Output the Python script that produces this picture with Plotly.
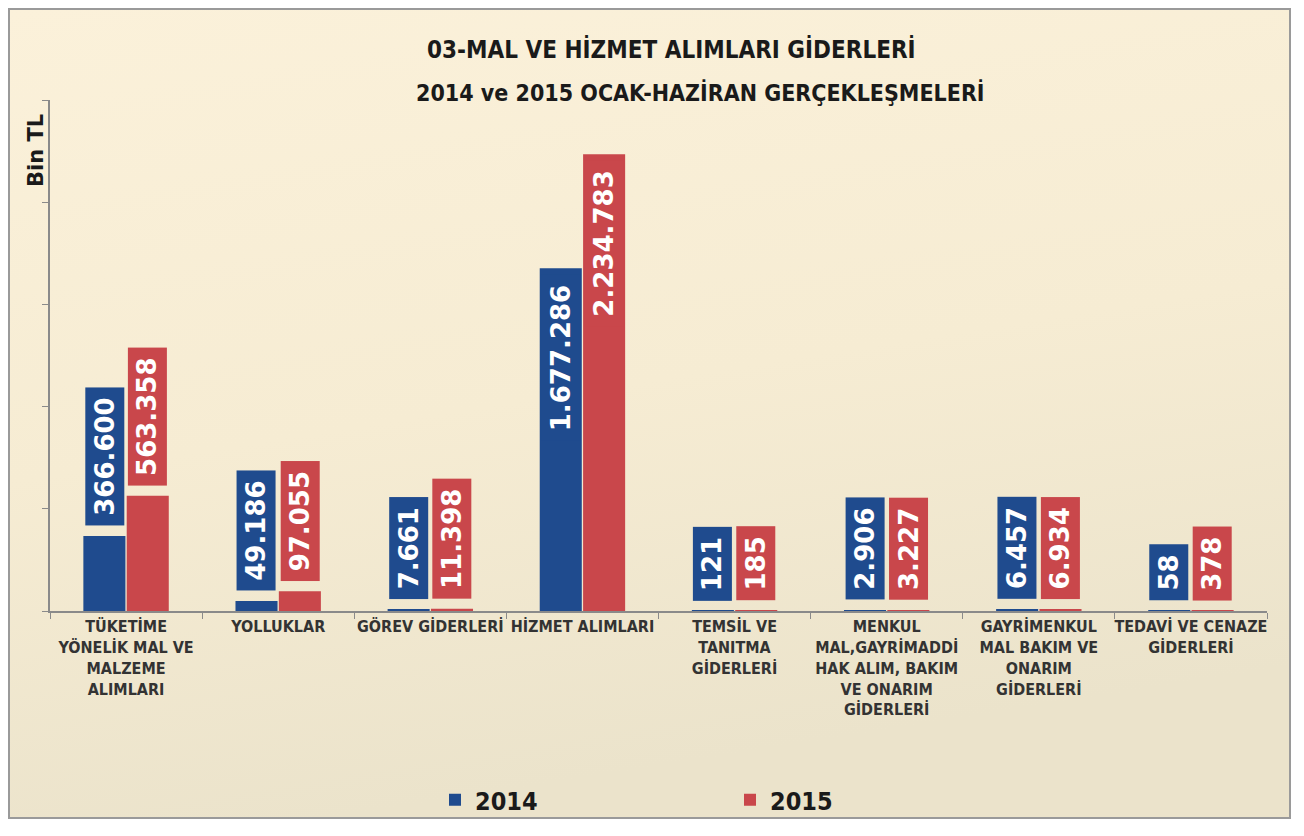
import base64
import plotly.graph_objects as go

categories = [
    "TÜKETİME<br>YÖNELİK MAL VE<br>MALZEME<br>ALIMLARI",
    "YOLLUKLAR",
    "GÖREV GİDERLERİ",
    "HİZMET ALIMLARI",
    "TEMSİL VE<br>TANITMA<br>GİDERLERİ",
    "MENKUL<br>MAL,GAYRİMADDİ<br>HAK ALIM, BAKIM<br>VE ONARIM<br>GİDERLERİ",
    "GAYRİMENKUL<br>MAL BAKIM VE<br>ONARIM<br>GİDERLERİ",
    "TEDAVİ VE CENAZE<br>GİDERLERİ",
]
values_2014 = [366600, 49186, 7661, 1677286, 121, 2906, 6457, 58]
values_2015 = [563358, 97055, 11398, 2234783, 185, 3227, 6934, 378]
series_names = ["2014", "2015"]
y_ticks = [0, 500000, 1000000, 1500000, 2000000, 2500000]

title_line1 = "03-MAL VE HİZMET ALIMLARI GİDERLERİ"
title_line2 = "2014 ve 2015 OCAK-HAZİRAN GERÇEKLEŞMELERİ"
y_title = "Bin TL"

BLUE = "#1f4b8e"
RED = "#c9474b"
BARGAP = 0.43

NARROW = "DejaVu Sans Condensed, Liberation Sans Narrow, Roboto, sans-serif"


def fmt(v):
    return f"{v:,}".replace(",", ".")


fig = go.Figure()
for name, vals, col in [(series_names[0], values_2014, BLUE), (series_names[1], values_2015, RED)]:
    fig.add_trace(go.Bar(x=categories, y=vals, name=name, marker_color=col,
                         marker_line_width=0, hoverinfo="x+y"))

# data labels as boxed, rotated annotations
off = (1 - BARGAP) / 4
for vals, col, sign in [(values_2014, BLUE, -1), (values_2015, RED, 1)]:
    for i, v in enumerate(vals):
        inside = v > 1_000_000
        fig.add_annotation(
            x=i + sign * off, y=v, xref="x", yref="y",
            text="\u2009" + fmt(v) + "\u2009",
            showarrow=False, textangle=-90,
            font=dict(family="DejaVu Sans", size=26, color="white", weight="bold"),
            bgcolor=col, borderpad=4,
            xanchor="center",
            yanchor="top" if inside else "bottom",
            yshift=-6 if inside else 10,
        )

# background gradient inside frame
svg = ("<svg xmlns='http://www.w3.org/2000/svg' width='100' height='100' viewBox='0 0 100 100' "
       "preserveAspectRatio='none'><defs><linearGradient id='g' x1='0' y1='0' x2='0.25' y2='1'>"
       "<stop offset='0' stop-color='#fbf1da'/><stop offset='0.55' stop-color='#f6ecd3'/>"
       "<stop offset='1' stop-color='#ebe3cb'/></linearGradient></defs>"
       "<rect width='100' height='100' fill='url(#g)'/></svg>")
src = "data:image/svg+xml;base64," + base64.b64encode(svg.encode()).decode()

# the page puts the figure 8px from the window's top-left corner
OFF = 8
W, H = 1304 - 2 * OFF, 820
L, R, T, B = 42, 29, 92, 217
pw, ph = W - L - R, H - T - B


def px(xs):
    return (xs - OFF - L) / pw


def py(ys):
    return (H - B - (ys - OFF)) / ph


fx0, fx1, fy0, fy1 = px(9), px(1290), py(818), py(9)
fig.add_layout_image(dict(source=src, xref="paper", yref="paper", x=fx0, y=fy1,
                          sizex=fx1 - fx0, sizey=fy1 - fy0, sizing="stretch",
                          xanchor="left", yanchor="top", layer="below"))
fig.add_shape(type="rect", xref="paper", yref="paper", x0=fx0, x1=fx1, y0=fy0, y1=fy1,
              line=dict(color="#9a9a9a", width=2), layer="below")

fig.add_annotation(x=px(671), y=py(50), xref="paper", yref="paper", text=title_line1,
                   showarrow=False, xanchor="center", yanchor="middle",
                   font=dict(family=NARROW, size=24, color="#1a1a1a", weight="bold"))
fig.add_annotation(x=px(700), y=py(93), xref="paper", yref="paper", text=title_line2,
                   showarrow=False, xanchor="center", yanchor="middle",
                   font=dict(family=NARROW, size=23, color="#1a1a1a", weight="bold"))
fig.add_annotation(x=px(36), y=py(151), xref="paper", yref="paper", text=y_title,
                   showarrow=False, textangle=-90, xanchor="center", yanchor="middle",
                   font=dict(family="DejaVu Sans", size=21, color="#1a1a1a", weight="bold"))

fig.update_layout(
    width=W, height=H,
    margin=dict(l=L, r=R, t=T, b=B, autoexpand=False),
    paper_bgcolor="white", plot_bgcolor="rgba(0,0,0,0)",
    barmode="group", bargap=BARGAP, bargroupgap=0.03,
    showlegend=True,
    legend=dict(orientation="h", x=px(730), y=py(800), xanchor="center", yanchor="middle",
                font=dict(family=NARROW, size=25, color="#1a1a1a", weight="bold"),
                bgcolor="rgba(0,0,0,0)", entrywidth=250, traceorder="normal"),
    xaxis=dict(showline=True, linecolor="#8a8a8a", linewidth=2, ticks="outside",
               tickson="boundaries", ticklen=6, tickcolor="#8a8a8a", showgrid=False,
               tickangle=0, automargin=False,
               tickfont=dict(family=NARROW, size=16, color="#333333", weight="bold")),
    yaxis=dict(range=[0, 2500000], tickvals=y_ticks, showticklabels=False, showgrid=False,
               showline=True, linecolor="#8a8a8a", linewidth=1.5, ticks="outside",
               ticklen=6, tickcolor="#8a8a8a", zeroline=False, automargin=False),
)

fig.write_html("out.html")
